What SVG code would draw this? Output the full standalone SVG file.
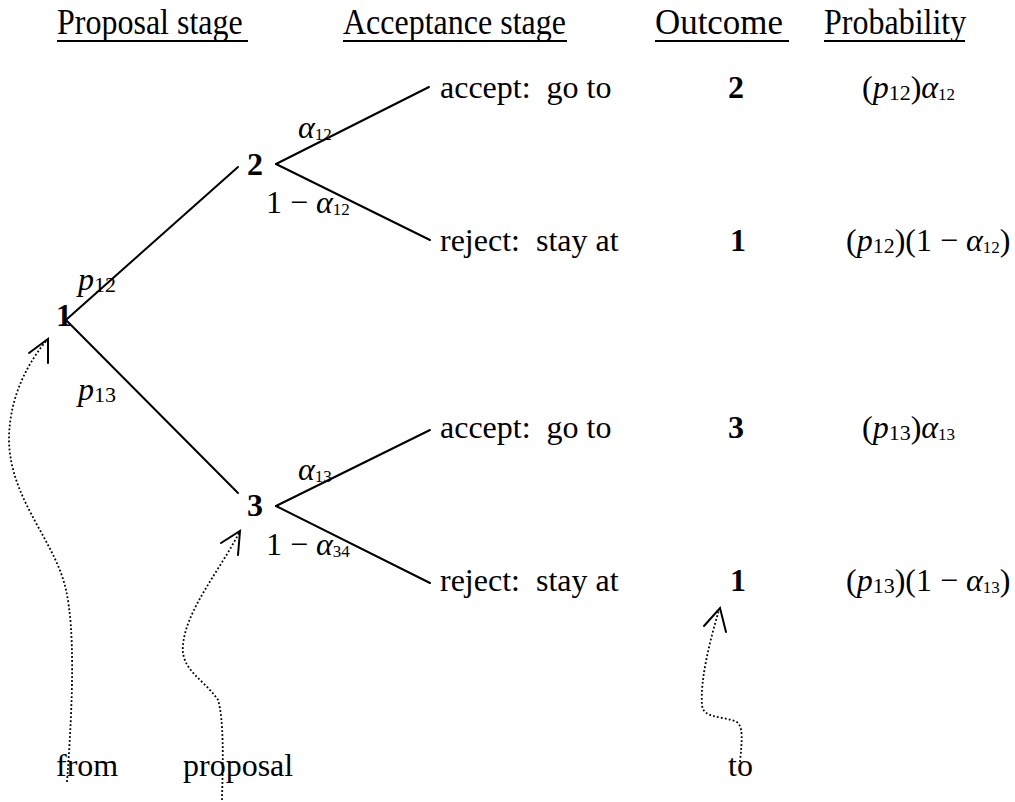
<svg xmlns="http://www.w3.org/2000/svg" width="1015" height="802" viewBox="0 0 1015 802">
  <style>
    text { font-family: "Liberation Serif", "Times New Roman", serif; font-size: 32px; fill: #000; }
    .b { font-weight: bold; }
    .it { font-style: italic; }
    .s1 { font-size: 22px; }
    .s2 { font-size: 17px; }
    .edge { stroke: #000; stroke-width: 2; fill: none; stroke-linecap: round; }
    .ul { stroke: #000; stroke-width: 2; }
    .dot { stroke: #000; stroke-width: 1.8; fill: none; stroke-dasharray: 1.8 2.2; }
    .head { stroke: #000; stroke-width: 2; fill: none; stroke-linecap: round; stroke-linejoin: miter; }
  </style>

  <rect width="1015" height="802" fill="#fff"/>

  <!-- column headings (slightly tall lettering, baseline kept at y=34) -->
  <g id="headers">
    <g transform="translate(0 34) scale(1 1.12) translate(0 -34)">
      <text x="57" y="34">Proposal stage</text>
      <text x="343" y="34">Acceptance stage</text>
      <text x="655" y="34" textLength="128" lengthAdjust="spacingAndGlyphs">Outcome</text>
      <text x="824" y="34">Probability</text>
    </g>
    <line class="ul" x1="57" y1="41" x2="248" y2="41"/>
    <line class="ul" x1="343" y1="41" x2="567" y2="41"/>
    <line class="ul" x1="655" y1="41" x2="789" y2="41"/>
    <line class="ul" x1="824" y1="41" x2="965" y2="41"/>
  </g>

  <!-- tree branches and pointer arrows -->
  <g id="connectors">
    <line class="edge" x1="67" y1="319" x2="238" y2="167"/>
    <line class="edge" x1="67" y1="321" x2="238" y2="493"/>
    <line class="edge" x1="276" y1="164" x2="429" y2="87"/>
    <line class="edge" x1="276" y1="164" x2="430" y2="240"/>
    <line class="edge" x1="276" y1="506" x2="430" y2="430"/>
    <line class="edge" x1="276" y1="506" x2="430" y2="583"/>

    <path class="dot" d="M 67 782 C 73 700, 75 630, 66 590 C 55 540, 10 500, 9 440 C 9 395, 30 360, 47 340"/>
    <polyline class="head" points="29,353 48,339 48,363"/>

    <path class="dot" d="M 222 800 C 223 760, 224 720, 218 700 C 205 680, 180 670, 183 645 C 186 610, 220 570, 239 533"/>
    <polyline class="head" points="221,543 240,531 238,555"/>

    <path class="dot" d="M 740 762 C 742 740, 744 725, 735 721 C 720 716, 703 718, 702 705 C 700 680, 710 640, 719 610"/>
    <polyline class="head" points="704,626 720,608 726,632"/>
  </g>

  <!-- decision nodes -->
  <g id="node-1"><text class="b" x="56" y="326">1</text></g>
  <g id="node-2"><text class="b" x="247" y="175">2</text></g>
  <g id="node-3"><text class="b" x="247" y="516">3</text></g>

  <!-- branch probabilities -->
  <g id="edge-labels">
    <text x="78" y="290"><tspan class="it">p</tspan><tspan class="s1" y="292">12</tspan></text>
    <text x="78" y="400"><tspan class="it">p</tspan><tspan class="s1" y="402">13</tspan></text>
    <text x="298" y="138"><tspan class="it">α</tspan><tspan class="s2" y="140">12</tspan></text>
    <text x="266" y="213">1 − <tspan class="it">α</tspan><tspan class="s2" y="215">12</tspan></text>
    <text x="298" y="480"><tspan class="it">α</tspan><tspan class="s2" y="482">13</tspan></text>
    <text x="266" y="555">1 − <tspan class="it">α</tspan><tspan class="s2" y="557">34</tspan></text>
  </g>

  <!-- outcomes after node 2 -->
  <g id="leaf-2-accept">
    <text x="440" y="98">accept:&#160; go to</text>
    <text class="b" x="728" y="98">2</text>
    <text x="862" y="98">(<tspan class="it">p</tspan><tspan class="s1" y="100">12</tspan><tspan y="98">)</tspan><tspan class="it">α</tspan><tspan class="s2" y="100">12</tspan></text>
  </g>
  <g id="leaf-2-reject">
    <text x="440" y="251">reject:&#160; stay at</text>
    <text class="b" x="730" y="251">1</text>
    <text x="846" y="251">(<tspan class="it">p</tspan><tspan class="s1" y="253">12</tspan><tspan y="251">)(1 − </tspan><tspan class="it">α</tspan><tspan class="s2" y="253">12</tspan><tspan y="251">)</tspan></text>
  </g>

  <!-- outcomes after node 3 -->
  <g id="leaf-3-accept">
    <text x="440" y="438">accept:&#160; go to</text>
    <text class="b" x="728" y="438">3</text>
    <text x="862" y="438">(<tspan class="it">p</tspan><tspan class="s1" y="440">13</tspan><tspan y="438">)</tspan><tspan class="it">α</tspan><tspan class="s2" y="440">13</tspan></text>
  </g>
  <g id="leaf-3-reject">
    <text x="440" y="591">reject:&#160; stay at</text>
    <text class="b" x="730" y="591">1</text>
    <text x="846" y="591">(<tspan class="it">p</tspan><tspan class="s1" y="593">13</tspan><tspan y="591">)(1 − </tspan><tspan class="it">α</tspan><tspan class="s2" y="593">13</tspan><tspan y="591">)</tspan></text>
  </g>

  <!-- pointer captions -->
  <g id="captions">
    <text x="56" y="776">from</text>
    <text x="183" y="776">proposal</text>
    <text x="728" y="776">to</text>
  </g>
</svg>
